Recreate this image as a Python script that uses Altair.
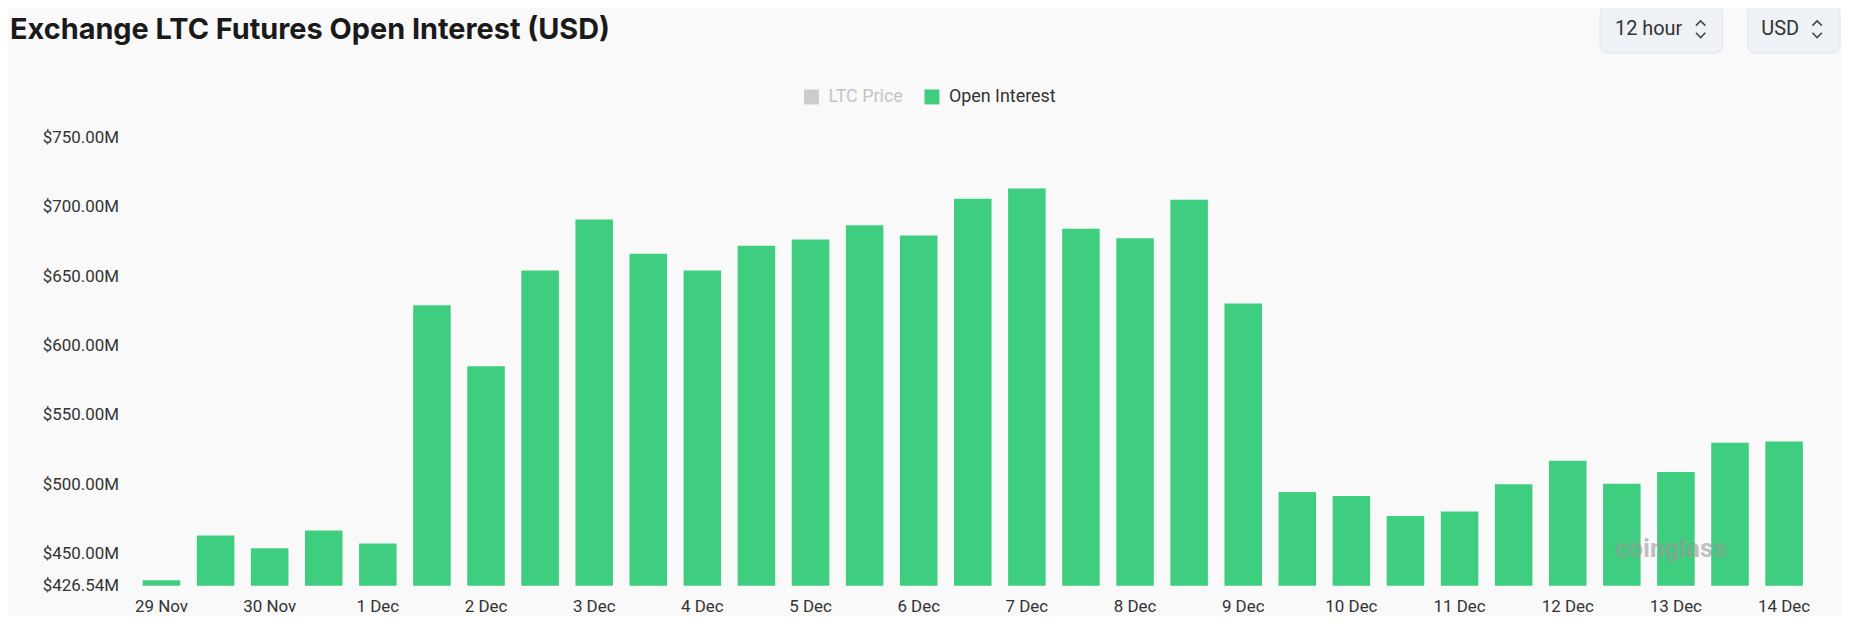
import altair as alt
import pandas as pd

# ---------------- data ----------------
periods = [
    "29 Nov 00:00", "29 Nov 12:00", "30 Nov 00:00", "30 Nov 12:00",
    "1 Dec 00:00", "1 Dec 12:00", "2 Dec 00:00", "2 Dec 12:00",
    "3 Dec 00:00", "3 Dec 12:00", "4 Dec 00:00", "4 Dec 12:00",
    "5 Dec 00:00", "5 Dec 12:00", "6 Dec 00:00", "6 Dec 12:00",
    "7 Dec 00:00", "7 Dec 12:00", "8 Dec 00:00", "8 Dec 12:00",
    "9 Dec 00:00", "9 Dec 12:00", "10 Dec 00:00", "10 Dec 12:00",
    "11 Dec 00:00", "11 Dec 12:00", "12 Dec 00:00", "12 Dec 12:00",
    "13 Dec 00:00", "13 Dec 12:00", "14 Dec 00:00",
]
open_interest = [  # USD millions
    430.5, 462.9, 453.7, 466.5, 457.1, 629.0, 585.0, 654.1,
    691.0, 666.3, 654.1, 672.1, 676.6, 686.9, 679.5, 705.9,
    713.3, 684.3, 677.5, 705.2, 630.3, 494.3, 491.4, 477.0,
    480.1, 499.8, 516.8, 500.3, 508.7, 529.8, 530.7,
]
series_names = ["LTC Price", "Open Interest"]
series_colors = ["#cccccc", "#3fcd7f"]
y_min = 426.54
y_max = 750.0
y_ticks = [426.54, 450, 500, 550, 600, 650, 700, 750]
title_text = "Exchange LTC Futures Open Interest (USD)"

df = pd.DataFrame({
    "period": periods,
    "oi": open_interest,
    "series": ["Open Interest"] * len(periods),
})

FONT = "Roboto"
TXT = "#333333"

bars = alt.Chart(df).mark_bar().encode(
    x=alt.X(
        "period:N",
        sort=periods,
        scale=alt.Scale(paddingInner=0.306, paddingOuter=0.153),
        axis=alt.Axis(
            title=None, labelAngle=0, ticks=False, domain=False, grid=False,
            labelPadding=13, labelFont=FONT, labelFontSize=17, labelColor=TXT,
            labelOverlap=False,
            labelExpr="indexof(datum.label, '00:00') >= 0 ? replace(datum.label, ' 00:00', '') : ''",
        ),
    ),
    y=alt.Y(
        "oi:Q",
        scale=alt.Scale(domain=[y_min, y_max], zero=False, nice=False),
        axis=alt.Axis(
            title=None, values=y_ticks, ticks=False, domain=False, grid=False,
            labelPadding=16, labelFont=FONT, labelFontSize=17, labelColor=TXT,
            labelExpr="'$' + format(datum.value, '.2f') + 'M'",
        ),
    ),
    y2=alt.datum(y_min),
    color=alt.Color(
        "series:N",
        scale=alt.Scale(domain=series_names, range=series_colors),
        legend=alt.Legend(
            title=None, orient="none", legendX=671, legendY=-50,
            direction="horizontal", symbolType="square", symbolSize=225,
            symbolStrokeWidth=0, symbolOpacity=1, labelFont=FONT,
            labelFontSize=18, labelOffset=8, columnPadding=20, padding=0,
            labelColor=alt.ExprRef(expr="datum.label == 'LTC Price' ? '#c4c4c4' : '#333333'"),
        ),
    ),
    tooltip=["period:N", "oi:Q"],
)

one = pd.DataFrame({"k": [0]})

title = alt.Chart(one).mark_text(
    text=title_text, align="left", baseline="alphabetic", font="Inter",
    fontSize=29, fontWeight="bold", color="#1a1a1a"
).encode(x=alt.value(-125), y=alt.value(-99))

def box(x1, x2):
    return alt.Chart(one).mark_rect(
        fill="#eef1f5", stroke="#e0e4ea", strokeWidth=1, cornerRadius=8
    ).encode(x=alt.value(x1), x2=alt.value(x2), y=alt.value(-133), y2=alt.value(-85))

def label(txt, x):
    return alt.Chart(one).mark_text(
        text=txt, align="left", baseline="middle", font=FONT, fontSize=20, color=TXT
    ).encode(x=alt.value(x), y=alt.value(-109))

def chevrons(x):
    up = alt.Chart(one).mark_point(
        shape="M-1,0.5L0,-0.5L1,0.5", filled=False, stroke="#444444",
        strokeWidth=1.5, size=90, opacity=1
    ).encode(x=alt.value(x), y=alt.value(-115))
    down = alt.Chart(one).mark_point(
        shape="M-1,-0.5L0,0.5L1,-0.5", filled=False, stroke="#444444",
        strokeWidth=1.5, size=90, opacity=1
    ).encode(x=alt.value(x), y=alt.value(-103))
    return up + down

watermark = alt.Chart(one).mark_text(
    text="coinglass", align="left", baseline="middle", font=FONT,
    fontSize=26, fontWeight="bold", color="#9a9a9a", opacity=0.6
).encode(x=alt.value(1487), y=alt.value(413))

chart = alt.layer(
    bars,
    watermark,
    title,
    box(1472, 1595), label("12 hour", 1487), chevrons(1573),
    box(1620, 1713), label("USD", 1634), chevrons(1690),
).properties(
    width=1684,
    height=450,
    autosize=alt.AutoSizeParams(type="none"),
    padding={"left": 127, "top": 129, "right": 30, "bottom": 29},
).configure(
    background="#f9f9f9",
).configure_view(
    stroke=None,
)

chart.save("out.html", embed_options={"renderer": "svg", "actions": False})
